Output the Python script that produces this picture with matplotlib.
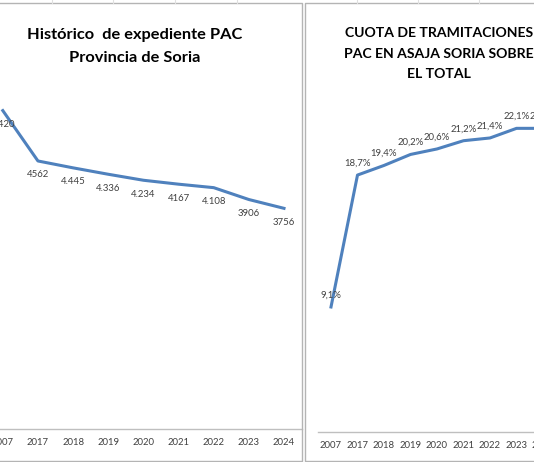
import matplotlib.pyplot as plt
from matplotlib.lines import Line2D

plt.rcParams['font.family'] = ['Lato', 'DejaVu Sans']

# data
years = ['2007', '2017', '2018', '2019', '2020', '2021', '2022', '2023', '2024']
expedientes = [5420, 4562, 4445, 4336, 4234, 4167, 4108, 3906, 3756]
exp_labels = ['5.420', '4562', '4.445', '4.336', '4.234', '4167', '4.108', '3906', '3756']
cuota = [9.1, 18.7, 19.4, 20.2, 20.6, 21.2, 21.4, 22.1, 22.1]
cuota_labels = ['9,1%', '18,7%', '19,4%', '20,2%', '20,6%', '21,2%', '21,4%', '22,1%', '22,1%']

W, H = 534, 462
fig = plt.figure(figsize=(W / 100, H / 100), dpi=100)
fig.patch.set_facecolor('white')

blue = '#4f81bd'
axis_gray = '#bfbfbf'
border_gray = '#b4b4b4'


def px_axes(left, right, top, bottom):
    # axes rectangle given in pixels (y from the top)
    return fig.add_axes([left / W, (H - bottom) / H, (right - left) / W, (bottom - top) / H])


def style(ax):
    for s in ['left', 'right', 'top']:
        ax.spines[s].set_visible(False)
    ax.spines['bottom'].set_color(axis_gray)
    ax.spines['bottom'].set_linewidth(1.0)
    ax.set_yticks([])
    ax.set_xticks(range(len(years)))
    ax.set_xticklabels(years)
    ax.tick_params(axis='x', length=0, pad=6.5, labelsize=6.8, labelcolor='#404040')
    ax.set_xlim(-0.5, len(years) - 0.5)
    ax.patch.set_alpha(0)


# left chart
x0, step = 2.8, 35.15
ax1 = px_axes(x0 - 0.5 * step, x0 + 8.5 * step, 76.5, 429)
style(ax1)
ax1.set_ylim(0, 6000)
ax1.plot(range(len(years)), expedientes, color=blue, lw=2.2, solid_joinstyle='round')
for i, v in enumerate(expedientes):
    ax1.annotate(exp_labels[i], (i, v), xytext=(0, -10), textcoords='offset points',
                 ha='center', va='center', fontsize=6.9, color='#404040')

# right chart
x0r, stepr = 331, 26.5
ax2 = px_axes(x0r - 0.5 * stepr, x0r + 8.5 * stepr, 88.5, 432)
style(ax2)
ax2.set_ylim(0, 25)
ax2.plot(range(len(years)), cuota, color=blue, lw=2.2, solid_joinstyle='round')
for i, v in enumerate(cuota):
    ax2.annotate(cuota_labels[i], (i, v), xytext=(0, 8.5), textcoords='offset points',
                 ha='center', va='center', fontsize=6.9, color='#404040')

# titles
fig.text(135 / W, 1 - 35 / H, 'Histórico  de expediente PAC', ha='center', va='center',
         fontsize=11.8, fontweight='bold')
fig.text(135 / W, 1 - 58 / H, 'Provincia de Soria', ha='center', va='center',
         fontsize=11.8, fontweight='bold')
fig.text(439 / W, 1 - 33 / H, 'CUOTA DE TRAMITACIONES', ha='center', va='center',
         fontsize=10.1, fontweight='bold')
fig.text(439 / W, 1 - 54 / H, 'PAC EN ASAJA SORIA SOBRE', ha='center', va='center',
         fontsize=10.1, fontweight='bold')
fig.text(439 / W, 1 - 74 / H, 'EL TOTAL', ha='center', va='center',
         fontsize=10.1, fontweight='bold')


def fig_line(xs, ys, color=border_gray, lw=1.0):
    fig.add_artist(Line2D([x / W for x in xs], [1 - y / H for y in ys],
                          color=color, lw=lw, transform=fig.transFigure))


# chart borders
fig_line([0, 301.5, 301.5, 0], [2.5, 2.5, 460.5, 460.5])
fig_line([W, 304.5, 304.5, W], [2.5, 2.5, 460.5, 460.5])
# faint worksheet cell lines above the charts
for gx in [52, 113, 175, 237, 357, 418, 479]:
    fig_line([gx, gx], [0, 2.5], color='#e0e0e0', lw=0.8)

fig.savefig('out.png', dpi=100)
